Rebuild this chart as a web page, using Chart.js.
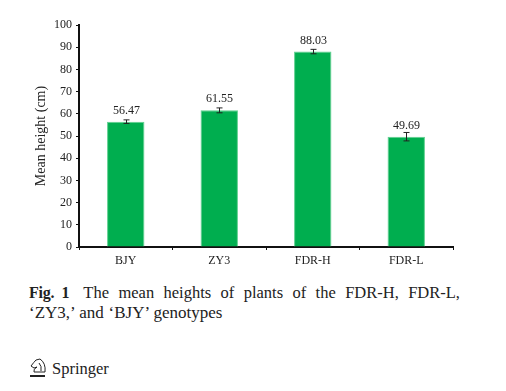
<!DOCTYPE html>
<html><head><meta charset="utf-8">
<script src="https://cdn.jsdelivr.net/npm/chart.js@4"></script>
<style>
html,body{margin:0;padding:0;background:#fff;width:506px;height:391px;overflow:hidden;font-family:"Liberation Serif",serif;color:#222}
#wrap{position:absolute;left:0;top:0;width:506px;height:270px}
.t{position:absolute;white-space:nowrap}
#c1{left:29px;top:283px;width:431px;font-size:16.5px;line-height:20px;text-align:justify;text-align-last:justify;white-space:normal}
#c2{left:29px;top:303px;font-size:17px;line-height:20px;word-spacing:.5px}
#sp{left:52px;top:359px;font-size:16.5px}
</style></head><body>
<div id="wrap"><canvas id="chart" width="506" height="270"></canvas></div>
<div class="t" id="c1"><b style="font-size:16px;letter-spacing:-.2px;word-spacing:-2px;margin-right:5px">Fig. 1</b> The mean heights of plants of the FDR-H, FDR-L,</div>
<div class="t" id="c2">‘ZY3,’ and ‘BJY’ genotypes</div>
<div class="t" id="sp">Springer</div>
<svg style="position:absolute;left:29px;top:357px" width="20" height="23" viewBox="0 0 20 23" fill="none" stroke="#222" stroke-width="1">
<path d="M7 3 L11 2 Q17 6 16 15 L5 15 Q4 12 8 10 L5 11 L2 9 Q5 5 7 3Z"/><path d="M10 6 Q13 9 12 14"/><rect x="1" y="18" width="15" height="2" fill="#222" stroke="none"/></svg>
<script>
const categories = ["BJY","ZY3","FDR-H","FDR-L"];
const heights = [56.47,61.55,88.03,49.69];
const errors = [0.8,1.1,1.0,1.9];
const yTicks = [0,10,20,30,40,50,60,70,80,90,100];
const axisTitle = "Mean height (cm)";
const barPlugin = {
  id:'marks',
  afterDatasetsDraw(ch){
    const {ctx,scales:{x,y}} = ch;
    ctx.save();
    ctx.strokeStyle='#222';ctx.lineWidth=1;
    ctx.font='12px "Liberation Serif"';ctx.fillStyle='#222';ctx.textAlign='center';ctx.textBaseline='alphabetic';
    heights.forEach((v,i)=>{
      const px=Math.round(x.getPixelForValue(i))+.5;
      const hi=y.getPixelForValue(v+errors[i]), lo=y.getPixelForValue(v-errors[i]);
      ctx.beginPath();
      ctx.moveTo(px,hi);ctx.lineTo(px,lo);
      ctx.moveTo(px-3,hi);ctx.lineTo(px+3,hi);
      ctx.moveTo(px-3,lo);ctx.lineTo(px+3,lo);
      ctx.stroke();
      ctx.fillText(v.toFixed(2),px,y.getPixelForValue(v)-8);
    });
    ctx.restore();
  }
};
new Chart(document.getElementById('chart'),{
  type:'bar',
  data:{labels:categories,datasets:[{data:heights,backgroundColor:'#00ae4f',borderColor:'#5fd08f',borderWidth:{top:1,left:1,right:1,bottom:0},categoryPercentage:1,barPercentage:.4}]},
  plugins:[barPlugin],
  options:{
    responsive:false,animation:false,
    layout:{padding:{left:33,top:25,right:53,bottom:0}},
    plugins:{legend:{display:false},tooltip:{enabled:false}},
    scales:{
      x:{position:'bottom',grid:{display:true,drawOnChartArea:false,drawTicks:true,tickLength:3,color:'#111',lineWidth:1},
         border:{color:'#111',width:2},
         ticks:{color:'#222',font:{family:'Liberation Serif',size:12},padding:4,maxRotation:0},
         afterFit(a){a.height=23;}},
      y:{min:0,max:100,afterBuildTicks(a){a.ticks=yTicks.map(value=>({value}))},
         grid:{drawOnChartArea:false,drawTicks:true,tickLength:3,color:'#111'},
         border:{color:'#111',width:2},
         ticks:{color:'#222',font:{family:'Liberation Serif',size:12},padding:4},
         title:{display:true,text:axisTitle,color:'#222',font:{family:'Liberation Serif',size:14},padding:{top:0,bottom:3}},
         afterFit(a){a.width=46;}}
    }
  }
});
</script>
</body></html>
